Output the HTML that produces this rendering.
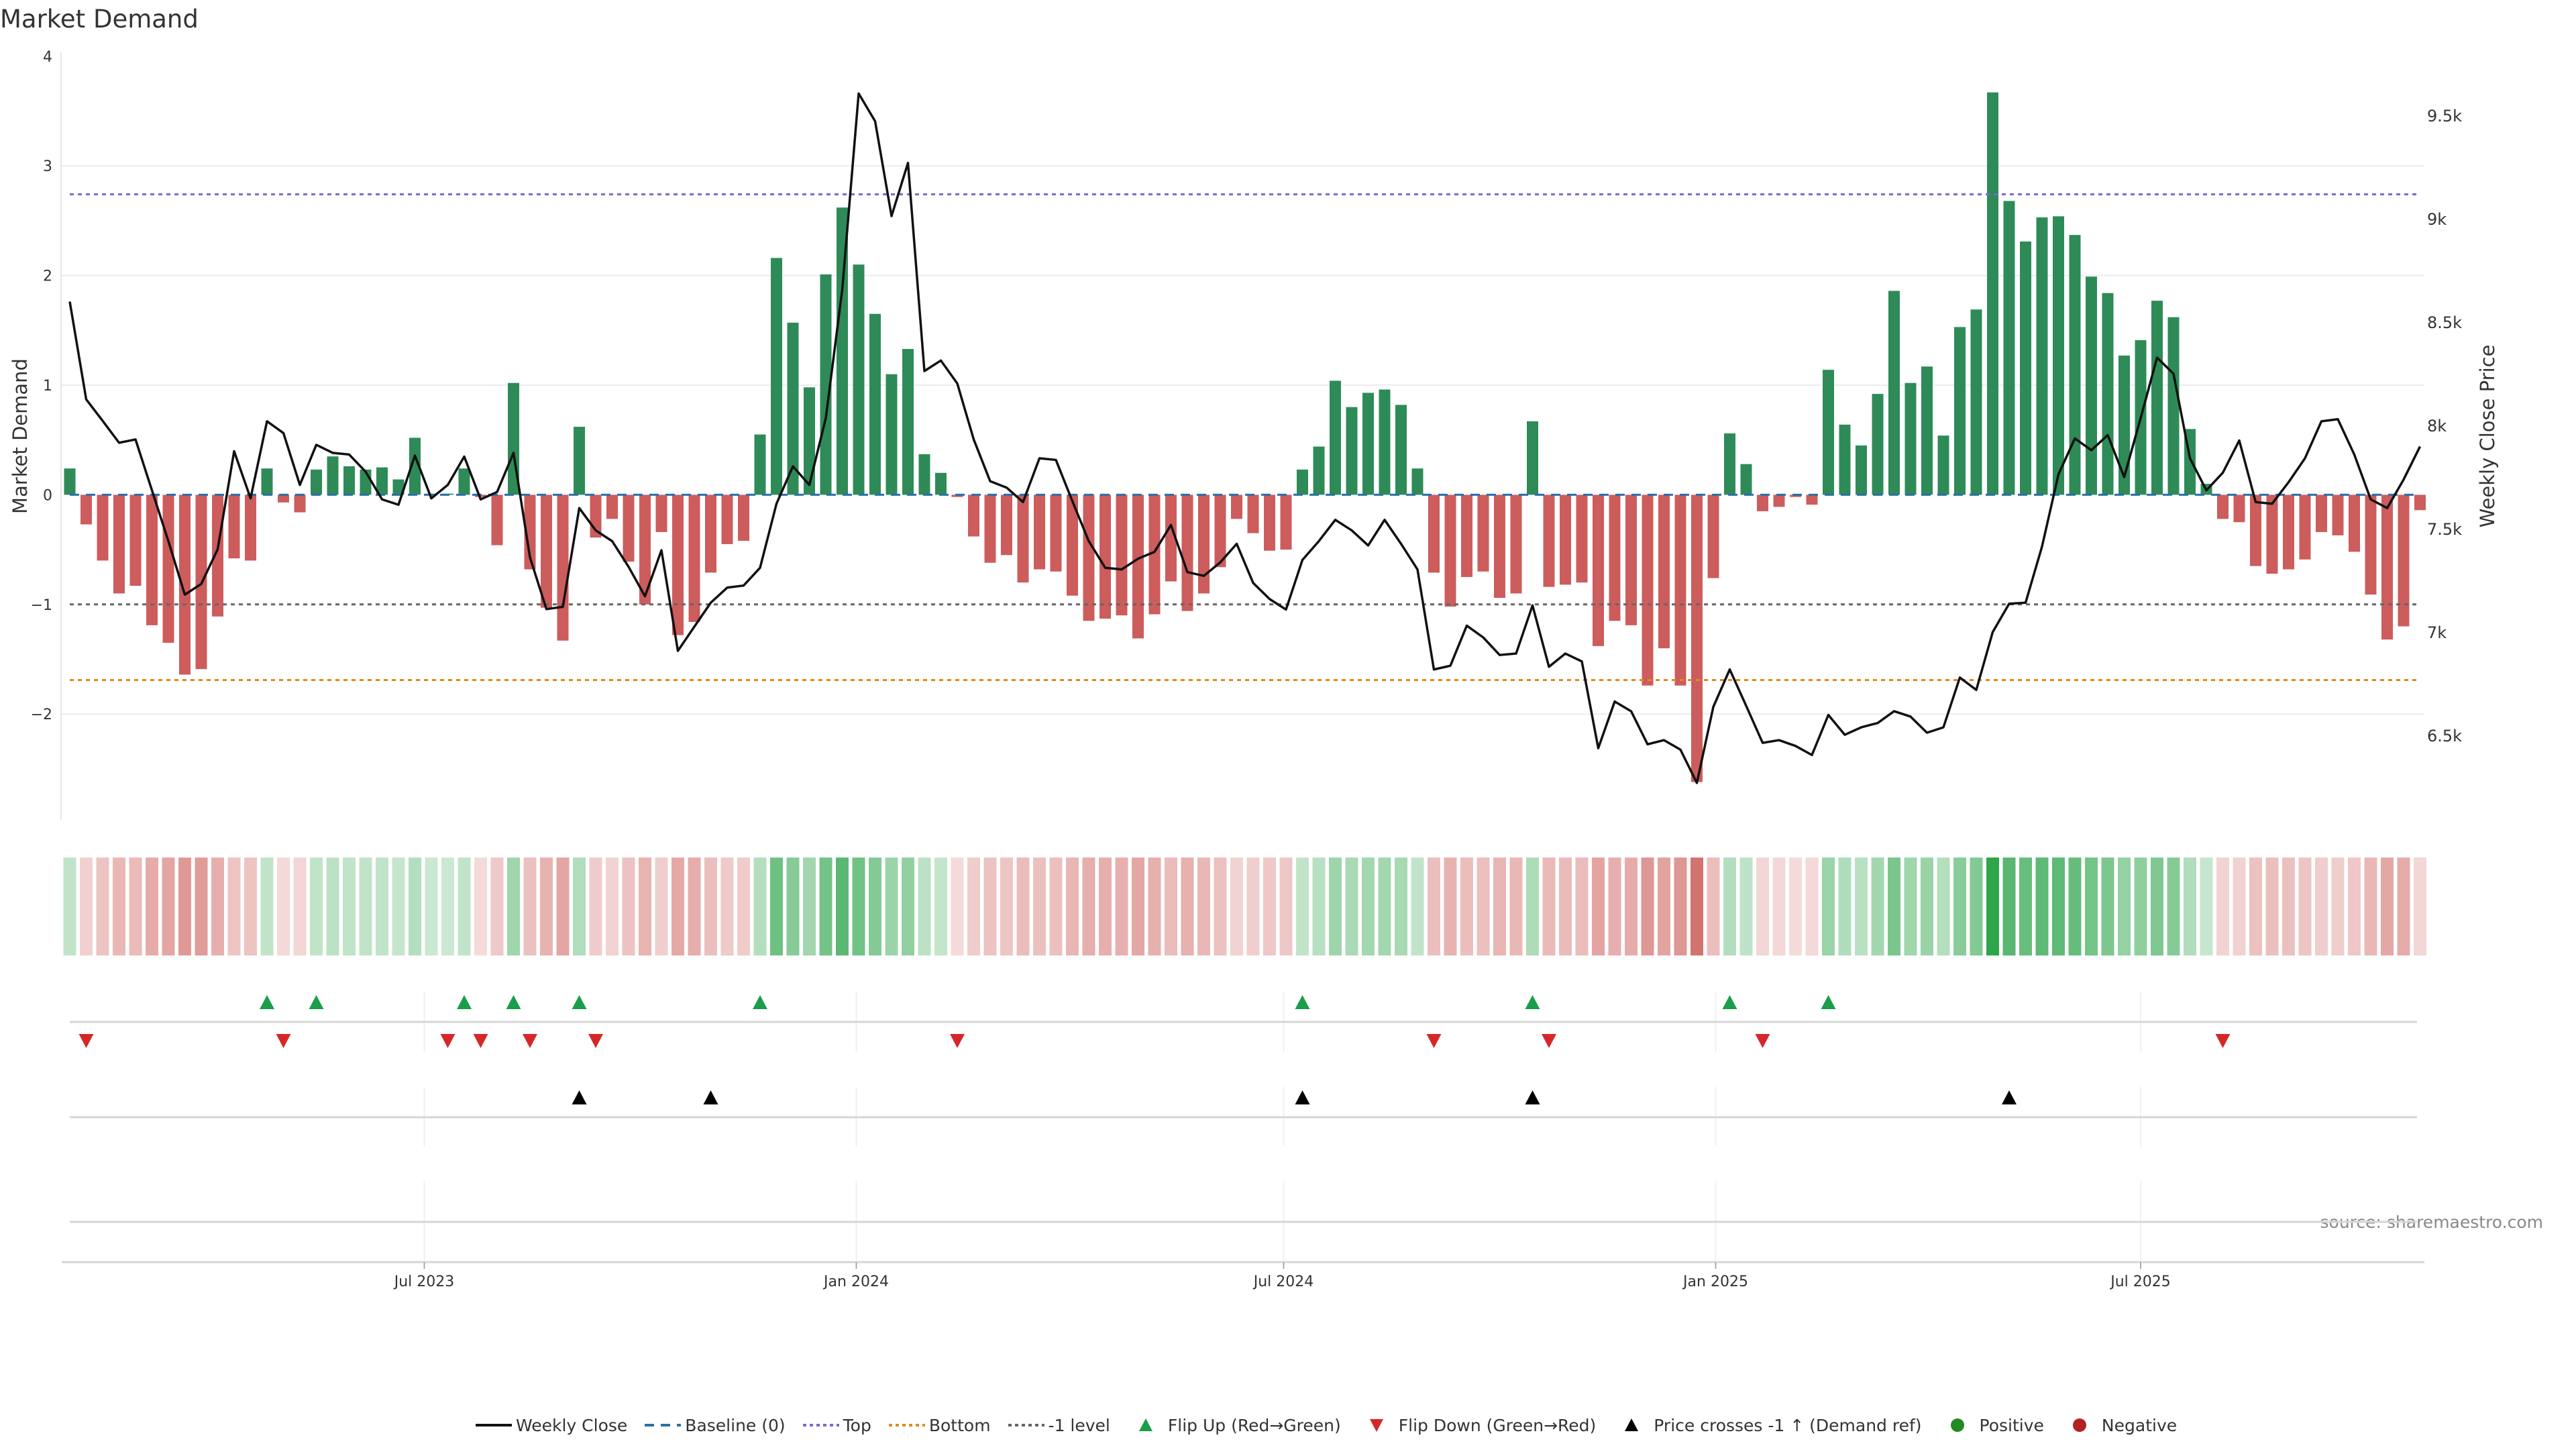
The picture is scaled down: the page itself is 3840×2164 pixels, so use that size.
<!DOCTYPE html>
<html><head><meta charset="utf-8"><style>
html,body{margin:0;padding:0;background:#fff;}
body{width:3840px;height:2160px;overflow:hidden;font-family:"DejaVu Sans","Liberation Sans",sans-serif;}
svg text{font-family:"DejaVu Sans","Liberation Sans",sans-serif;}
</style></head><body>
<svg id="chart" width="3840" height="2160" xmlns="http://www.w3.org/2000/svg">
<text x="0" y="41" font-size="37" fill="#333">Market Demand</text>
<text transform="translate(40,650) rotate(-90)" text-anchor="middle" font-size="29" fill="#333">Market Demand</text>
<text transform="translate(3718,650) rotate(-90)" text-anchor="middle" font-size="29" fill="#333">Weekly Close Price</text>
<text x="3791" y="1830" text-anchor="end" font-size="25" fill="#888">source: sharemaestro.com</text>
<g id="g"></g>
</svg>
<script>
const demand=[0.24,-0.27,-0.60,-0.90,-0.83,-1.19,-1.35,-1.64,-1.59,-1.11,-0.58,-0.60,0.24,-0.07,-0.16,0.23,0.35,0.26,0.23,0.25,0.14,0.52,0.01,0.01,0.24,-0.02,-0.46,1.02,-0.68,-1.03,-1.33,0.62,-0.39,-0.22,-0.61,-1.00,-0.34,-1.28,-1.16,-0.71,-0.45,-0.42,0.55,2.16,1.57,0.98,2.01,2.62,2.10,1.65,1.10,1.33,0.37,0.20,-0.02,-0.38,-0.62,-0.55,-0.80,-0.68,-0.70,-0.92,-1.15,-1.13,-1.10,-1.31,-1.09,-0.79,-1.06,-0.90,-0.66,-0.22,-0.35,-0.51,-0.50,0.23,0.44,1.04,0.80,0.93,0.96,0.82,0.24,-0.71,-1.02,-0.75,-0.70,-0.94,-0.90,0.67,-0.84,-0.82,-0.80,-1.38,-1.15,-1.19,-1.74,-1.40,-1.74,-2.62,-0.76,0.56,0.28,-0.15,-0.11,-0.02,-0.09,1.14,0.64,0.45,0.92,1.86,1.02,1.17,0.54,1.53,1.69,3.67,2.68,2.31,2.53,2.54,2.37,1.99,1.84,1.27,1.41,1.77,1.62,0.60,0.10,-0.22,-0.25,-0.65,-0.72,-0.68,-0.59,-0.34,-0.37,-0.52,-0.91,-1.32,-1.20,-0.14];
const price=[8599,8126,8022,7916,7932,7686,7440,7181,7233,7401,7875,7647,8020,7963,7712,7906,7867,7859,7776,7642,7616,7854,7647,7712,7849,7642,7678,7867,7362,7111,7122,7600,7492,7440,7316,7173,7396,6909,7026,7142,7215,7225,7311,7621,7802,7712,8035,8656,9606,9472,9013,9270,8263,8314,8203,7932,7730,7699,7629,7841,7833,7634,7440,7311,7303,7355,7388,7518,7290,7272,7337,7427,7238,7160,7109,7349,7440,7543,7492,7419,7543,7427,7303,6819,6837,7031,6974,6889,6896,7129,6832,6896,6858,6438,6664,6617,6457,6477,6431,6270,6638,6819,6643,6464,6477,6449,6405,6599,6503,6539,6560,6617,6591,6513,6539,6780,6720,7000,7137,7142,7414,7763,7937,7880,7953,7750,8035,8328,8250,7841,7686,7771,7927,7629,7621,7725,7841,8020,8030,7859,7642,7600,7738,7898];
const flipUpIdx=[12,15,24,27,31,42,75,89,101,107];
const flipDownIdx=[1,13,23,25,28,32,54,83,90,103,131];
const crossIdx=[31,39,75,89,118];
const leftTicks=[4,3,2,1,0,-1,-2];
const rightTicks=[9500,9000,8500,8000,7500,7000,6500];
const rightTickLabels=["9.5k","9k","8.5k","8k","7.5k","7k","6.5k"];
const dateTicks=["2023-07-01","2024-01-01","2024-07-01","2025-01-01","2025-07-01"];
const dateTickLabels=["Jul 2023","Jan 2024","Jul 2024","Jan 2025","Jul 2025"];
const topLevel=2.74, bottomLevel=-1.69, negLevel=-1;

const NS="http://www.w3.org/2000/svg";
const g=document.getElementById('g');
function el(t,a){const e=document.createElementNS(NS,t);for(const k in a)e.setAttribute(k,a[k]);g.appendChild(e);return e;}
const X0=104,DX=24.5;
const xi=i=>X0+DX*i;
const start=Date.UTC(2023,0,31);
const xd=s=>{const d=new Date(s+"T00:00:00Z").getTime();return X0+(d-start)/(7*864e5)*DX;};
const yL=v=>737.4-v*163.4;
const yR=p=>172-(p-9500)*0.308;
const PL=91,PR=3614;

leftTicks.forEach(t=>{
  if(t!==0&&t!==4&&t!==-1){const l=el('line',{x1:PL,x2:PR,y1:yL(t),y2:yL(t),stroke:'#ececec','stroke-width':2});
  }
  const tx=el('text',{x:78,y:yL(t)+8,'text-anchor':'end','font-size':22,fill:'#333'});
  tx.textContent=t<0?'\u2212'+(-t):String(t);
  
});
rightTicks.forEach((p,i)=>{
  const tx=el('text',{x:3618,y:yR(p)+9,'font-size':24,fill:'#333'});
  tx.textContent=rightTickLabels[i];
  
});
const ax=el('line',{x1:PL,x2:PL,y1:78,y2:1222,stroke:'#e6e6e6','stroke-width':2});


demand.forEach((v,i)=>{
  const y0=yL(0),y1=yL(v);
  const r=el('rect',{x:xi(i)-8.5,width:17,y:Math.min(y0,y1),height:Math.max(1,Math.abs(y1-y0)),fill:v>=0?'#2e8b57':'#cd5c5c'});
  
});
let l;
l=el('line',{x1:104,x2:3603,y1:yL(topLevel),y2:yL(topLevel),stroke:'#7b68d4','stroke-width':3,'stroke-dasharray':'6 6'});

l=el('line',{x1:104,x2:3603,y1:yL(bottomLevel),y2:yL(bottomLevel),stroke:'#e08a1e','stroke-width':3,'stroke-dasharray':'6 6'});

l=el('line',{x1:104,x2:3603,y1:yL(negLevel),y2:yL(negLevel),stroke:'#666','stroke-width':3,'stroke-dasharray':'6 6'});

l=el('line',{x1:104,x2:3603,y1:yL(0),y2:yL(0),stroke:'#2a6fa8','stroke-width':3,'stroke-dasharray':'14 10'});

const pl=el('polyline',{points:price.map((p,i)=>xi(i)+','+yR(p)).join(' '),fill:'none',stroke:'#111','stroke-width':3.5,'stroke-linejoin':'round'});


const maxPos=Math.max(...demand),maxNeg=-Math.min(...demand);
demand.forEach((v,i)=>{
  let fill;
  if(v>=0){const a=0.25+0.75*v/maxPos;fill=`rgba(46,165,75,${a.toFixed(3)})`;}
  else{const a=0.2+0.6*(-v)/maxNeg;fill=`rgba(200,80,75,${a.toFixed(3)})`;}
  const r=el('rect',{x:xi(i)-9.5,width:19,y:1278,height:146,fill:fill});
  
});

[[1478,1568],[1620,1709],[1760,1881]].forEach(([a,b])=>{
  dateTicks.forEach(d=>{const v=el('line',{x1:xd(d),x2:xd(d),y1:a,y2:b,stroke:'#f0f0f0','stroke-width':2});
  });
});
[1523,1665,1821].forEach(y=>{const h=el('line',{x1:104,x2:3603,y1:y,y2:y,stroke:'#d6d6d6','stroke-width':3});
  });
const xa=el('line',{x1:92,x2:3614,y1:1881,y2:1881,stroke:'#d6d6d6','stroke-width':3});

dateTicks.forEach((d,i)=>{
  const t=el('line',{x1:xd(d),x2:xd(d),y1:1881,y2:1891,stroke:'#aaa','stroke-width':2});
  
  const tx=el('text',{x:xd(d),y:1917,'text-anchor':'middle','font-size':22,fill:'#333'});
  tx.textContent=dateTickLabels[i];
  
});
function tri(x,y,up,col,name){
  const p=up?`${x-11},${y+10} ${x+11},${y+10} ${x},${y-11}`:`${x-11},${y-10} ${x+11},${y-10} ${x},${y+11}`;
  const t=el('polygon',{points:p,fill:col});
  
}
flipUpIdx.forEach(i=>tri(xi(i),1494,true,'#1a9e4a','flip-up-marker'));
flipDownIdx.forEach(i=>tri(xi(i),1551,false,'#d62728','flip-down-marker'));
crossIdx.forEach(i=>tri(xi(i),1636,true,'#000','price-cross-marker'));
</script>
<div style="position:absolute;left:705px;top:2106px;height:36px;display:flex;align-items:center;font-size:25px;color:#333;white-space:nowrap;">
<span style="display:flex;align-items:center;margin-right:22px"><svg width="64" height="10"><line x1="4" x2="58" y1="5" y2="5" stroke="#111" stroke-width="4"/></svg>Weekly Close</span>
<span style="display:flex;align-items:center;margin-right:22px"><svg width="64" height="10"><line x1="4" x2="58" y1="5" y2="5" stroke="#2a6fa8" stroke-width="4" stroke-dasharray="14 10"/></svg>Baseline (0)</span>
<span style="display:flex;align-items:center;margin-right:22px"><svg width="64" height="10"><line x1="4" x2="58" y1="5" y2="5" stroke="#7b68d4" stroke-width="4" stroke-dasharray="5 5"/></svg>Top</span>
<span style="display:flex;align-items:center;margin-right:22px"><svg width="64" height="10"><line x1="4" x2="58" y1="5" y2="5" stroke="#e08a1e" stroke-width="4" stroke-dasharray="5 5"/></svg>Bottom</span>
<span style="display:flex;align-items:center;margin-right:22px"><svg width="64" height="10"><line x1="4" x2="58" y1="5" y2="5" stroke="#666" stroke-width="4" stroke-dasharray="5 5"/></svg>-1 level</span>
<span style="display:flex;align-items:center;margin-right:22px"><svg width="64" height="26"><polygon points="21,22 41,22 31,3" fill="#1a9e4a"/></svg>Flip Up (Red→Green)</span>
<span style="display:flex;align-items:center;margin-right:22px"><svg width="64" height="26"><polygon points="21,4 41,4 31,23" fill="#d62728"/></svg>Flip Down (Green→Red)</span>
<span style="display:flex;align-items:center;margin-right:22px"><svg width="64" height="26"><polygon points="21,22 41,22 31,3" fill="#000"/></svg>Price crosses -1 ↑ (Demand ref)</span>
<span style="display:flex;align-items:center;margin-right:22px"><svg width="64" height="26"><circle cx="31" cy="13" r="10" fill="#228b22"/></svg>Positive</span>
<span style="display:flex;align-items:center;"><svg width="64" height="26"><circle cx="31" cy="13" r="10" fill="#b22222"/></svg>Negative</span>
</div>
</body></html>
